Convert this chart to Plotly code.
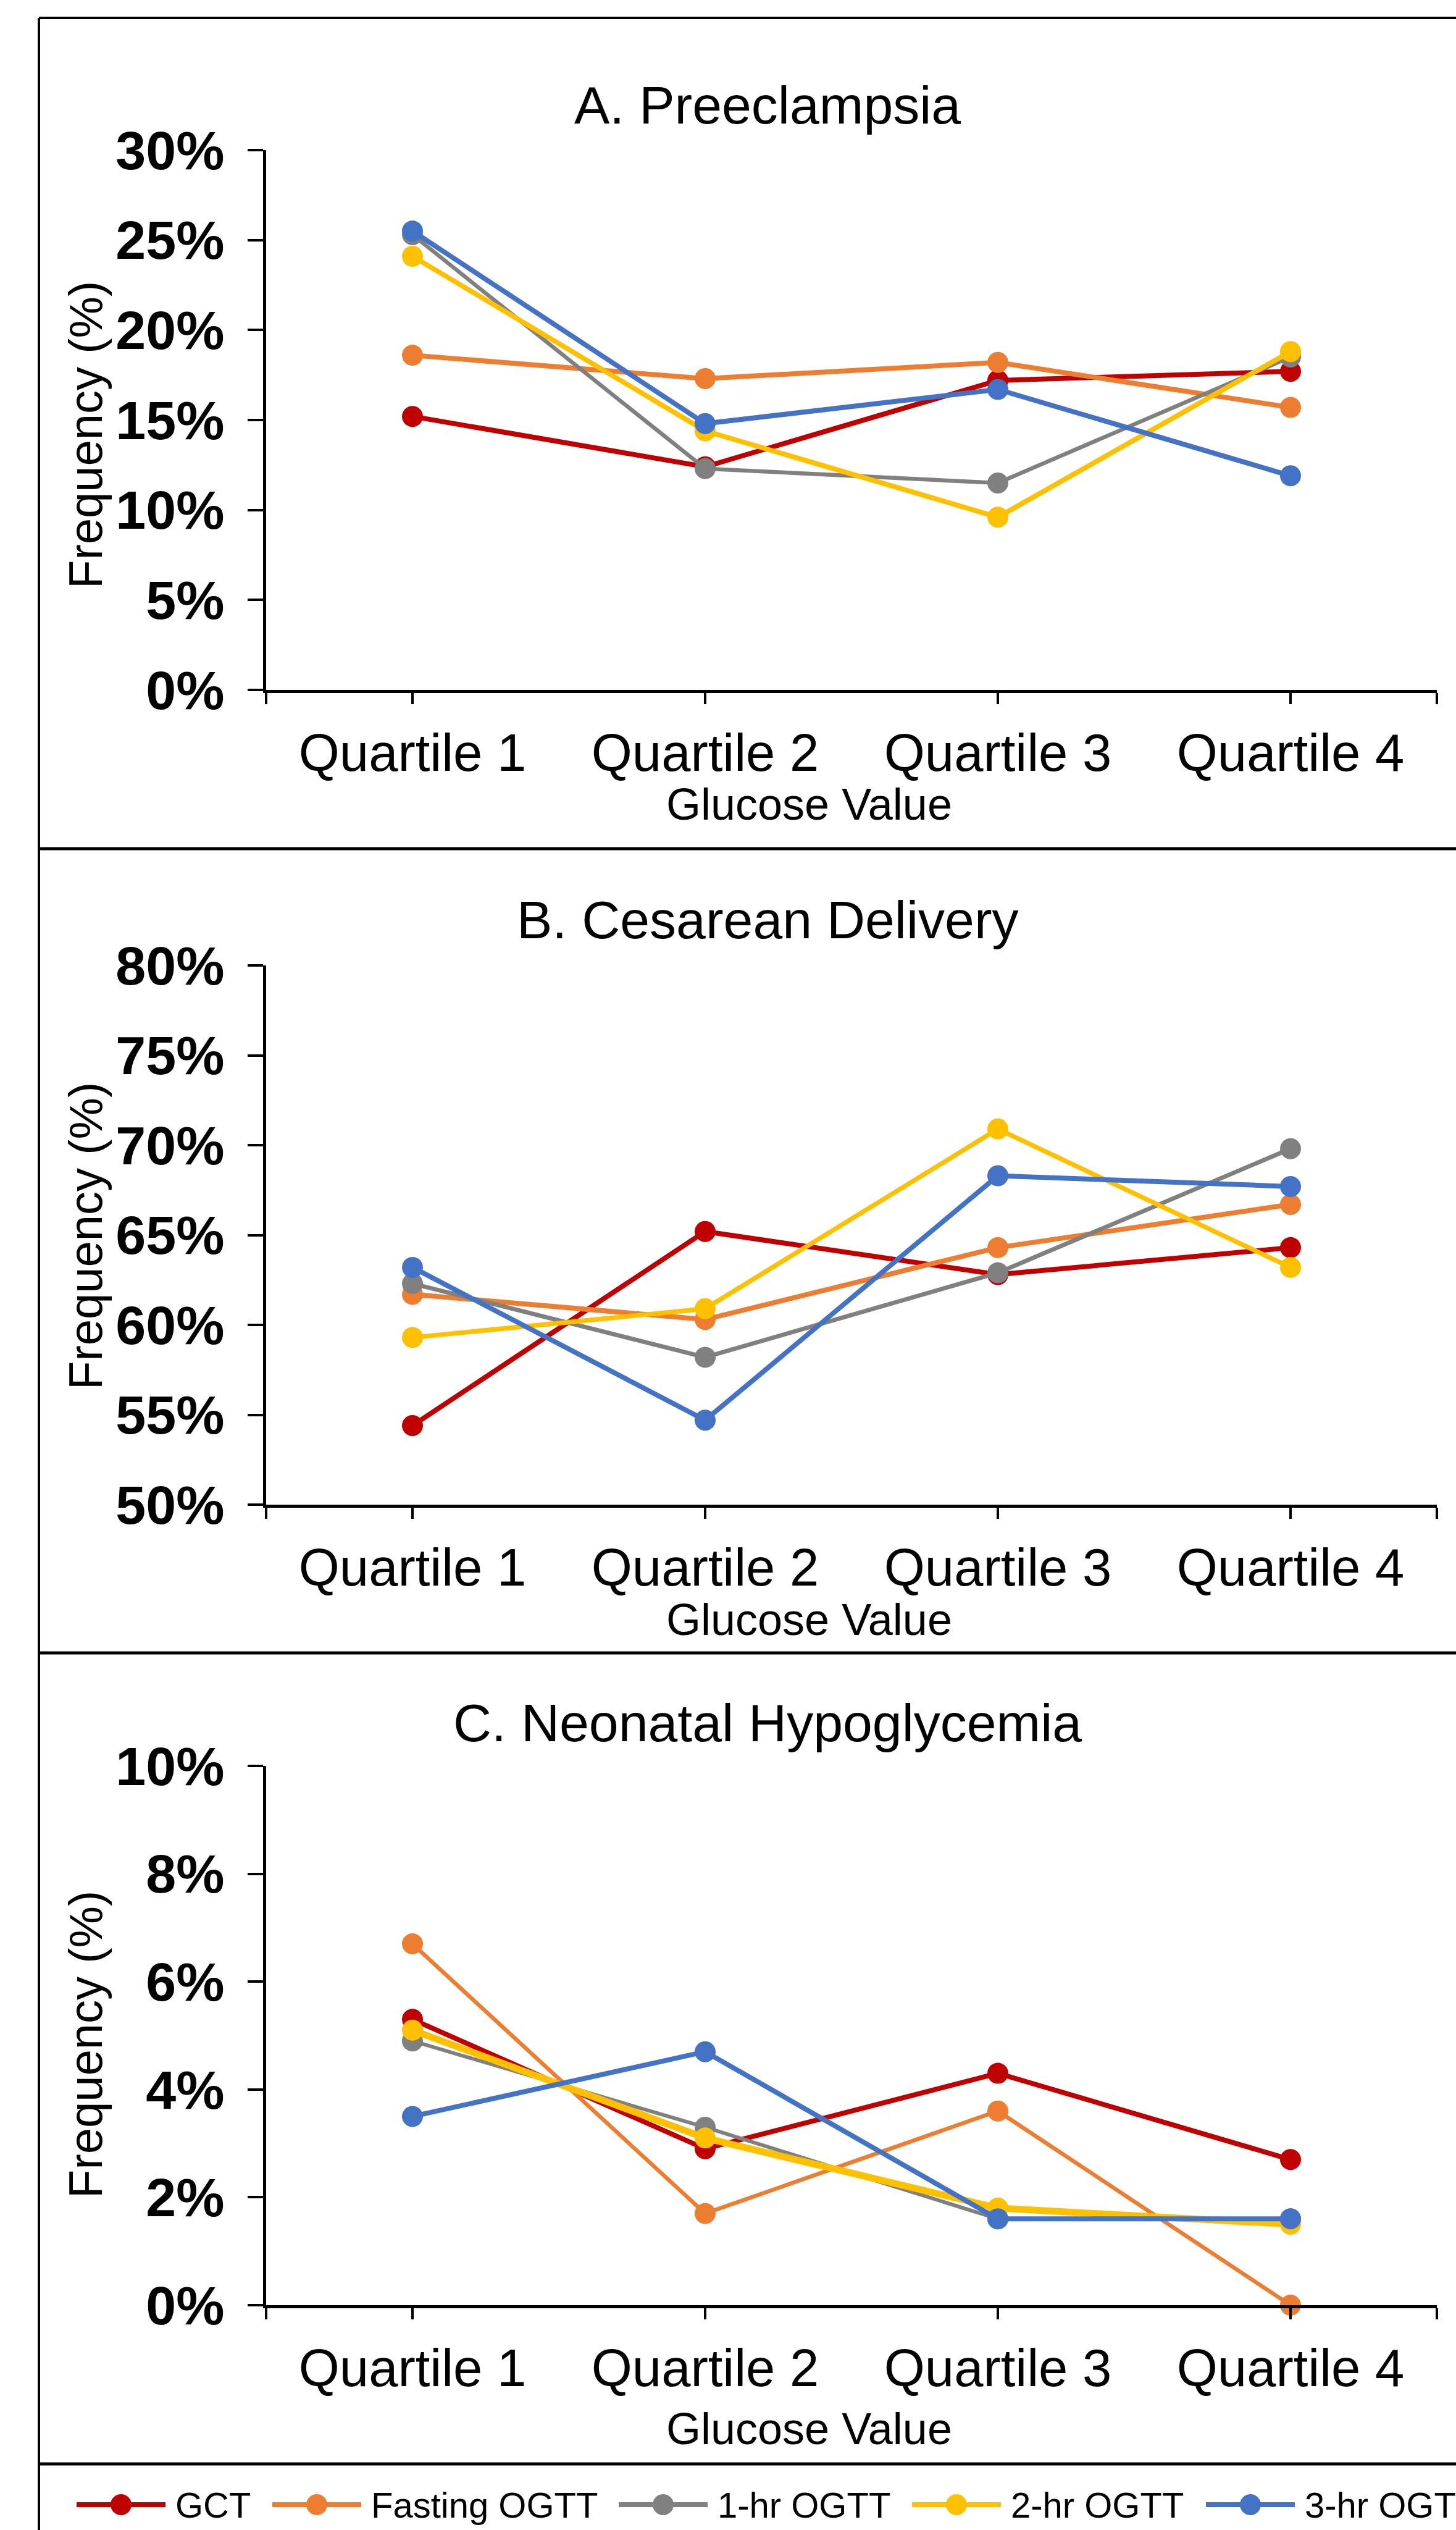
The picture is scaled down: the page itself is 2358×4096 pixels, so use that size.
import plotly.graph_objects as go

W, H = 2358, 4096
FONT = "Liberation Sans, Arial, sans-serif"

# ---------------- data ----------------
quartiles = ["Quartile 1", "Quartile 2", "Quartile 3", "Quartile 4"]
series_names = ["GCT", "Fasting OGTT", "1-hr OGTT", "2-hr OGTT", "3-hr OGTT"]
series_colors = ["#C00000", "#ED7D31", "#808080", "#FFC000", "#4472C4"]

panel_titles = ["A. Preeclampsia", "B. Cesarean Delivery", "C. Neonatal Hypoglycemia"]
x_title = "Glucose Value"
y_title = "Frequency (%)"

# Panel A: Preeclampsia (%)
pre_gct = [15.2, 12.4, 17.2, 17.7]
pre_fasting = [18.6, 17.3, 18.2, 15.7]
pre_1hr = [25.3, 12.3, 11.5, 18.5]
pre_2hr = [24.1, 14.4, 9.6, 18.8]
pre_3hr = [25.5, 14.8, 16.7, 11.9]

# Panel B: Cesarean delivery (%)
ces_gct = [54.4, 65.2, 62.8, 64.3]
ces_fasting = [61.7, 60.3, 64.3, 66.7]
ces_1hr = [62.3, 58.2, 62.9, 69.8]
ces_2hr = [59.3, 60.9, 70.9, 63.2]
ces_3hr = [63.2, 54.7, 68.3, 67.7]

# Panel C: Neonatal hypoglycemia (%)
hypo_gct = [5.3, 2.9, 4.3, 2.7]
hypo_fasting = [6.7, 1.7, 3.6, 0.0]
hypo_1hr = [4.9, 3.3, 1.6, 1.6]
hypo_2hr = [5.1, 3.1, 1.8, 1.5]
hypo_3hr = [3.5, 4.7, 1.6, 1.6]

y_ranges = [[0, 30], [50, 80], [0, 10]]
y_dticks = [5, 5, 2]

panels = [
    [pre_gct, pre_fasting, pre_1hr, pre_2hr, pre_3hr],
    [ces_gct, ces_fasting, ces_1hr, ces_2hr, ces_3hr],
    [hypo_gct, hypo_fasting, hypo_1hr, hypo_2hr, hypo_3hr],
]

# ---------------- styling / layout (pixels) ----------------
line_widths = [
    [8, 8, 6.5, 8, 8],
    [8, 8, 7, 7.5, 8],
    [8, 6.5, 6, 11, 8],
]
marker_size = 34
plot_px = [(243, 1117), (1563, 2436), (2859, 3732)]  # top, bottom
x_px = (431, 2327)
title_y_px = [170, 1489, 2789]
title_x_px = 1243
xtitle_y_px = [1302, 2622, 3932]
xtitle_x_px = 1310
ytitle_x_px = 138
ytitle_y_px = [704, 2001, 3310]
sep_px = [1374, 2676, 3989]
frame_left_px = 63
frame_top_px = 29
legend_y_px = 4055
legend_line_start_px = [124, 441, 1002, 1477, 1953]
legend_line_len = 144
legend_text_gap = 158


def px_x(p):
    return p / W


def px_y(p):
    return 1 - p / H


fig = go.Figure()

xidx = list(range(len(quartiles)))
for pi, series in enumerate(panels):
    xa = "x" if pi == 0 else f"x{pi + 1}"
    ya = "y" if pi == 0 else f"y{pi + 1}"
    for si, vals in enumerate(series):
        fig.add_trace(go.Scatter(
            x=xidx, y=vals, mode="lines+markers", name=series_names[si],
            xaxis=xa, yaxis=ya, showlegend=False, cliponaxis=False,
            line=dict(color=series_colors[si], width=line_widths[pi][si]),
            marker=dict(color=series_colors[si], size=marker_size, line=dict(width=0)),
        ))

layout = dict(
    template="none",
    width=W, height=H, margin=dict(l=0, r=0, t=0, b=0, pad=0, autoexpand=False),
    paper_bgcolor="white", plot_bgcolor="white",
    font=dict(family=FONT, color="black"),
    showlegend=False,
)

n = len(quartiles)
tickvals = [-0.5] + xidx + [n - 0.5]
ticktext = [""] + quartiles + [""]

annotations = []
for pi in range(3):
    sfx = "" if pi == 0 else str(pi + 1)
    top, bot = plot_px[pi]
    layout["xaxis" + sfx] = dict(
        domain=[px_x(x_px[0]), px_x(x_px[1])], anchor="y" + sfx, automargin=False,
        range=[-0.5, n - 0.5], tickvals=tickvals, ticktext=ticktext,
        showline=True, linecolor="black", linewidth=5,
        ticks="outside", ticklen=18, tickwidth=4, tickcolor="black",
        showgrid=False, zeroline=False, ticklabelstandoff=6,
        tickfont=dict(family=FONT, size=85, color="black"),
    )
    layout["yaxis" + sfx] = dict(
        domain=[px_y(bot), px_y(top)], anchor="x" + sfx, automargin=False,
        range=y_ranges[pi], dtick=y_dticks[pi], tick0=y_ranges[pi][0], ticksuffix="%",
        showline=True, linecolor="black", linewidth=5,
        ticks="outside", ticklen=25, tickwidth=4, tickcolor="black",
        showgrid=False, zeroline=False, ticklabelstandoff=20,
        tickfont=dict(family=FONT, size=88, color="black", weight="bold"),
    )
    annotations.append(dict(
        text=panel_titles[pi], xref="paper", yref="paper",
        x=px_x(title_x_px), y=px_y(title_y_px[pi]), xanchor="center", yanchor="middle",
        showarrow=False, font=dict(family=FONT, size=86, color="black"),
    ))
    annotations.append(dict(
        text=x_title, xref="paper", yref="paper",
        x=px_x(xtitle_x_px), y=px_y(xtitle_y_px[pi]), xanchor="center", yanchor="middle",
        showarrow=False, font=dict(family=FONT, size=72, color="black"),
    ))
    annotations.append(dict(
        text=y_title, xref="paper", yref="paper", textangle=-90,
        x=px_x(ytitle_x_px), y=px_y(ytitle_y_px[pi]), xanchor="center", yanchor="middle",
        showarrow=False, font=dict(family=FONT, size=76, color="black"),
    ))

shapes = []
# outer frame (right and bottom edges are outside the visible image)
shapes.append(dict(type="line", xref="paper", yref="paper",
                   x0=px_x(frame_left_px), x1=1.05, y0=px_y(frame_top_px), y1=px_y(frame_top_px),
                   line=dict(color="black", width=4)))
shapes.append(dict(type="line", xref="paper", yref="paper",
                   x0=px_x(frame_left_px), x1=px_x(frame_left_px), y0=px_y(frame_top_px), y1=-0.05,
                   line=dict(color="black", width=4)))
for s in sep_px:
    shapes.append(dict(type="line", xref="paper", yref="paper",
                       x0=px_x(frame_left_px), x1=1.05, y0=px_y(s), y1=px_y(s),
                       line=dict(color="black", width=5)))

# legend drawn manually (long line + marker sample)
ly = px_y(legend_y_px)
r = marker_size / 2
for si, name in enumerate(series_names):
    x0 = legend_line_start_px[si]
    x1 = x0 + legend_line_len
    xc = (x0 + x1) / 2
    shapes.append(dict(type="line", xref="paper", yref="paper",
                       x0=px_x(x0), x1=px_x(x1), y0=ly, y1=ly,
                       line=dict(color=series_colors[si], width=8)))
    shapes.append(dict(type="circle", xref="paper", yref="paper",
                       x0=px_x(xc - r), x1=px_x(xc + r), y0=ly - r / H, y1=ly + r / H,
                       fillcolor=series_colors[si], line=dict(width=0)))
    annotations.append(dict(
        text=name, xref="paper", yref="paper", x=px_x(x0 + legend_text_gap), y=ly,
        xanchor="left", yanchor="middle", showarrow=False,
        font=dict(family=FONT, size=58, color="black"),
    ))

layout["annotations"] = annotations
layout["shapes"] = shapes
fig.update_layout(**layout)

fig.write_html("out.html")
